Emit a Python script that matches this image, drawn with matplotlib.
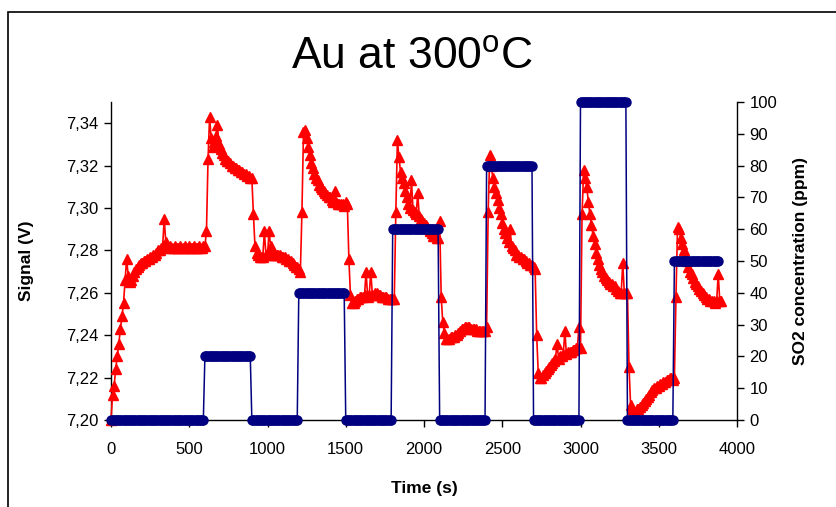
import numpy as np
import matplotlib
matplotlib.use('Agg')
import matplotlib.pyplot as plt
from matplotlib.patches import Rectangle

plt.rcParams['font.family'] = ['Liberation Sans', 'DejaVu Sans']

# ---- data ----
time_signal = np.arange(0, 3901, 10)
signal = [
    7.200, 7.212, 7.216, 7.224, 7.230, 7.236, 7.243, 7.249, 7.255, 7.266,
    7.276, 7.268, 7.265, 7.266, 7.268, 7.270, 7.271, 7.272, 7.273, 7.274,
    7.274, 7.275, 7.275, 7.276, 7.276, 7.277, 7.277, 7.278, 7.278, 7.279,
    7.280, 7.280, 7.281, 7.282, 7.295, 7.284, 7.282, 7.281, 7.282, 7.281,
    7.281, 7.282, 7.281, 7.281, 7.282, 7.281, 7.281, 7.282, 7.281, 7.281,
    7.282, 7.281, 7.281, 7.282, 7.281, 7.281, 7.282, 7.281, 7.281, 7.282,
    7.282, 7.289, 7.323, 7.343, 7.333, 7.329, 7.331, 7.334, 7.339, 7.330,
    7.328, 7.326, 7.325, 7.323, 7.322, 7.322, 7.321, 7.320, 7.320, 7.319,
    7.319, 7.318, 7.318, 7.317, 7.317, 7.316, 7.316, 7.315, 7.315, 7.314,
    7.314, 7.297, 7.282, 7.279, 7.278, 7.277, 7.277, 7.277, 7.289, 7.278,
    7.278, 7.289, 7.282, 7.279, 7.278, 7.278, 7.278, 7.278, 7.278, 7.277,
    7.277, 7.277, 7.276, 7.276, 7.275, 7.275, 7.274, 7.273, 7.272, 7.272,
    7.271, 7.270, 7.298, 7.336, 7.337, 7.333, 7.329, 7.325, 7.321, 7.319,
    7.316, 7.314, 7.313, 7.311, 7.310, 7.309, 7.308, 7.307, 7.306, 7.305,
    7.305, 7.304, 7.303, 7.308, 7.303, 7.302, 7.302, 7.302, 7.302, 7.301,
    7.303, 7.302, 7.276, 7.259, 7.255, 7.255, 7.256, 7.257, 7.257, 7.258,
    7.258, 7.258, 7.259, 7.270, 7.258, 7.259, 7.270, 7.259, 7.259, 7.260,
    7.260, 7.259, 7.259, 7.258, 7.258, 7.258, 7.258, 7.257, 7.257, 7.257,
    7.257, 7.257, 7.298, 7.332, 7.324, 7.317, 7.314, 7.312, 7.308, 7.305,
    7.302, 7.300, 7.313, 7.299, 7.298, 7.297, 7.307, 7.296, 7.295, 7.294,
    7.293, 7.292, 7.291, 7.290, 7.289, 7.288, 7.287, 7.287, 7.286, 7.286,
    7.294, 7.258, 7.246, 7.241, 7.238, 7.238, 7.238, 7.239, 7.239, 7.239,
    7.240, 7.240, 7.241, 7.242, 7.243, 7.243, 7.244, 7.244, 7.244, 7.244,
    7.243, 7.243, 7.243, 7.243, 7.242, 7.242, 7.242, 7.242, 7.242, 7.242,
    7.244, 7.298, 7.325, 7.320, 7.314, 7.310, 7.307, 7.304, 7.300, 7.297,
    7.293, 7.290, 7.288, 7.286, 7.284, 7.290, 7.282, 7.281, 7.280, 7.278,
    7.278, 7.277, 7.277, 7.276, 7.276, 7.275, 7.274, 7.274, 7.273, 7.273,
    7.272, 7.271, 7.240, 7.222, 7.220, 7.220, 7.221, 7.222, 7.223, 7.224,
    7.225, 7.226, 7.227, 7.228, 7.229, 7.236, 7.229, 7.230, 7.230, 7.231,
    7.242, 7.231, 7.232, 7.232, 7.232, 7.233, 7.233, 7.234, 7.234, 7.244,
    7.234, 7.297, 7.318, 7.314, 7.310, 7.303, 7.297, 7.292, 7.287, 7.283,
    7.279, 7.276, 7.273, 7.271, 7.270, 7.268, 7.267, 7.266, 7.265, 7.264,
    7.264, 7.263, 7.263, 7.262, 7.261, 7.260, 7.260, 7.274, 7.260, 7.260,
    7.260, 7.225, 7.207, 7.205, 7.204, 7.204, 7.205, 7.205, 7.206, 7.207,
    7.208, 7.209, 7.210, 7.211, 7.212, 7.213, 7.214, 7.215, 7.215, 7.216,
    7.216, 7.217, 7.217, 7.218, 7.218, 7.219, 7.219, 7.220, 7.220, 7.219,
    7.220, 7.258, 7.291, 7.290, 7.286, 7.283, 7.280, 7.277, 7.275, 7.272,
    7.270, 7.269, 7.267, 7.265, 7.264, 7.263, 7.262, 7.261, 7.260, 7.259,
    7.258, 7.257, 7.257, 7.256, 7.256, 7.256, 7.255, 7.256, 7.269, 7.256,
    7.256,
]

time_conc = np.arange(0, 3881, 10)
step_start = [600, 1200, 1800, 2400, 3000, 3600]
step_end = [890, 1490, 2090, 2690, 3290, 3880]
step_level = [20, 40, 60, 80, 100, 50]
conc = np.zeros(len(time_conc))
for s, e, lvl in zip(step_start, step_end, step_level):
    conc[(time_conc >= s) & (time_conc <= e)] = lvl

left_ticks = [7.20, 7.22, 7.24, 7.26, 7.28, 7.30, 7.32, 7.34]
left_labels = ['7,20', '7,22', '7,24', '7,26', '7,28', '7,30', '7,32', '7,34']
x_ticks = [0, 500, 1000, 1500, 2000, 2500, 3000, 3500, 4000]
right_ticks = [0, 10, 20, 30, 40, 50, 60, 70, 80, 90, 100]

# ---- figure ----
W, H = 836, 507
fig = plt.figure(figsize=(W / 100, H / 100), dpi=100)
fig.patch.set_facecolor('white')

L, R, T, B = 111, 737, 102, 420
ax = fig.add_axes([L / W, 1 - B / H, (R - L) / W, (B - T) / H])
ax2 = ax.twinx()

ax.plot(time_signal, signal, color='#FF0000', lw=1.2, marker='^', ms=6.5,
        mfc='#FF0000', mec='#FF0000', zorder=3, clip_on=False)
ax2.plot(time_conc, conc, color='#000080', lw=1.1, marker='o', ms=6.5,
         mfc='#000080', mec='#000080', zorder=3, clip_on=False)

ax.set_xlim(0, 4000)
ax.set_ylim(7.20, 7.35)
ax2.set_ylim(0, 100)

ax.set_xticks(x_ticks)
ax.set_xticklabels([str(v) for v in x_ticks])
ax.set_yticks(left_ticks)
ax.set_yticklabels(left_labels)
ax2.set_yticks(right_ticks)
ax2.set_yticklabels([str(v) for v in right_ticks])

for a in (ax, ax2):
    a.spines['top'].set_visible(False)
    a.set_facecolor('none')
ax.spines['right'].set_visible(False)
ax2.spines['left'].set_visible(False)
ax2.spines['bottom'].set_visible(False)
for sp in ('left', 'bottom'):
    ax.spines[sp].set_linewidth(1.0)
ax2.spines['right'].set_linewidth(1.0)

ax.tick_params(axis='y', direction='out', length=5, width=1, labelsize=12, pad=4)
ax.tick_params(axis='x', direction='out', length=5, width=1, labelsize=12, pad=11)
ax2.tick_params(axis='y', direction='out', length=5, width=1, labelsize=12, pad=4)

ax.set_ylabel('Signal (V)', fontsize=12.5, fontweight='bold')
ax.yaxis.set_label_coords(-0.123, 0.5)
ax2.set_ylabel('SO2 concentration (ppm)', fontsize=12.5, fontweight='bold')
ax2.yaxis.set_label_coords(1.09, 0.5)
ax.set_xlabel('Time (s)', fontsize=12.5, fontweight='bold')
ax.xaxis.set_label_coords(0.5, -0.192)

fig.text(412 / W, 1 - 57 / H, r'Au at 300$^{\mathregular{o}}$C', fontsize=32,
         ha='center', va='center')

fig.add_artist(Rectangle((8 / W, -0.1), 1.2, 1.1 - 12 / H,
                         transform=fig.transFigure, fill=False,
                         edgecolor='black', lw=1.2, clip_on=False))

fig.savefig('out.png', dpi=100)
